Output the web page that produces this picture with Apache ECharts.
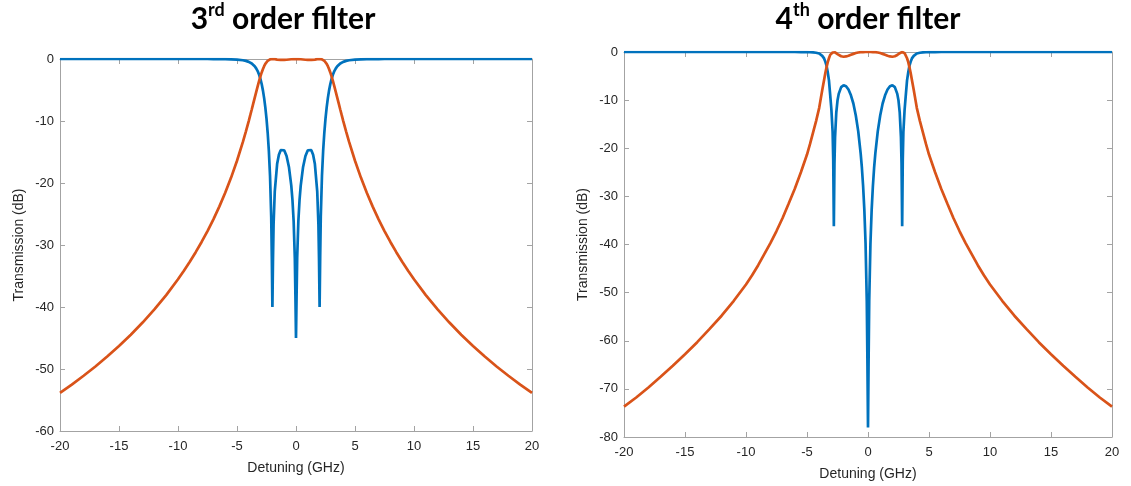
<!DOCTYPE html>
<html>
<head>
<meta charset="utf-8">
<script src="https://cdn.jsdelivr.net/npm/echarts@6/dist/echarts.min.js"></script>
<style>
  html, body { margin: 0; padding: 0; background: #ffffff; }
  #chart { width: 1131px; height: 486px; }
</style>
</head>
<body>
<div id="chart"></div>
<script>
// Third-order filter: detuning (GHz) and response (dB)
const detuning3 = [-20,-19,-18,-17,-16,-15,-14,-13,-12,-11,-10,-9.5,-9,-8.5,-8,-7.5,-7,-6.5,-6,-5.5,-5,-4.5,-4.25,-4,-3.875,-3.75,-3.625,-3.5,-3.375,-3.25,-3.125,-3,-2.9,-2.8,-2.7,-2.6,-2.5,-2.4,-2.3,-2.2,-2.1,-2.05,-2,-1.95,-1.9,-1.8,-1.6,-1.45,-1.3,-1.15,-1,-0.8,-0.6,-0.4,-0.3,-0.2,-0.1,-0.05,
  0,
  0.05,0.1,0.2,0.3,0.4,0.6,0.8,1,1.15,1.3,1.45,1.6,1.8,1.9,1.95,2,2.05,2.1,2.2,2.3,2.4,2.5,2.6,2.7,2.8,2.9,3,3.125,3.25,3.375,3.5,3.625,3.75,3.875,4,4.25,4.5,5,5.5,6,6.5,7,7.5,8,8.5,9,9.5,10,11,12,13,14,15,16,17,18,19,20];
const reflection3 = [0,0,0,0,0,0,0,0,0,0,0,0,0,0,0,0,-0.01,-0.02,-0.03,-0.05,-0.1,-0.2,-0.3,-0.46,-0.58,-0.72,-0.92,-1.17,-1.51,-1.95,-2.54,-3.32,-4.12,-5.1,-6.31,-7.8,-9.62,-11.9,-14.83,-18.86,-25.47,-31.85,-40,-32.3,-26.68,-21.4,-16.94,-15.44,-14.71,-14.52,-14.72,-15.65,-17.41,-20.42,-22.74,-26.15,-32.1,-38.1,
  -45,
  -38.1,-32.1,-26.15,-22.74,-20.42,-17.41,-15.65,-14.72,-14.52,-14.71,-15.44,-16.94,-21.4,-26.68,-32.3,-40,-31.85,-25.47,-18.86,-14.83,-11.9,-9.62,-7.8,-6.31,-5.1,-4.12,-3.32,-2.54,-1.95,-1.51,-1.17,-0.92,-0.72,-0.58,-0.46,-0.3,-0.2,-0.1,-0.05,-0.03,-0.02,-0.01,0,0,0,0,0,0,0,0,0,0,0,0,0,0,0,0];
const transmission3 = [-53.86,-52.51,-51.09,-49.59,-47.99,-46.29,-44.47,-42.51,-40.39,-38.08,-35.53,-34.15,-32.7,-31.16,-29.51,-27.75,-25.86,-23.81,-21.58,-19.13,-16.41,-13.37,-11.71,-9.97,-9.06,-8.14,-7.2,-6.26,-5.33,-4.41,-3.54,-2.72,-2.13,-1.61,-1.16,-0.79,-0.5,-0.29,-0.15,-0.06,-0.01,0,0,0,-0.01,-0.03,-0.09,-0.13,-0.15,-0.16,-0.15,-0.12,-0.08,-0.04,-0.02,-0.01,0,0,
  0,
  0,0,-0.01,-0.02,-0.04,-0.08,-0.12,-0.15,-0.16,-0.15,-0.13,-0.09,-0.03,-0.01,0,0,0,-0.01,-0.06,-0.15,-0.29,-0.5,-0.79,-1.16,-1.61,-2.13,-2.72,-3.54,-4.41,-5.33,-6.26,-7.2,-8.14,-9.06,-9.97,-11.71,-13.37,-16.41,-19.13,-21.58,-23.81,-25.86,-27.75,-29.51,-31.16,-32.7,-34.15,-35.53,-38.08,-40.39,-42.51,-44.47,-46.29,-47.99,-49.59,-51.09,-52.51,-53.86];

// Fourth-order filter: detuning (GHz) and response (dB)
const detuning4 = [-20,-19,-18,-17,-16,-15,-14,-13,-12,-11,-10,-9.5,-9,-8.5,-8,-7.5,-7,-6.5,-6,-5.5,-5,-4.75,-4.5,-4.25,-4,-3.9,-3.75,-3.6,-3.5,-3.4,-3.3,-3.2,-3.1,-3,-2.9,-2.85,-2.8,-2.75,-2.7,-2.6,-2.5,-2.4,-2.2,-2,-1.8,-1.6,-1.4,-1.2,-1,-0.8,-0.6,-0.5,-0.4,-0.3,-0.2,-0.1,-0.05,
  0,
  0.05,0.1,0.2,0.3,0.4,0.5,0.6,0.8,1,1.2,1.4,1.6,1.8,2,2.2,2.4,2.5,2.6,2.7,2.75,2.8,2.85,2.9,3,3.1,3.2,3.3,3.4,3.5,3.6,3.75,3.9,4,4.25,4.5,4.75,5,5.5,6,6.5,7,7.5,8,8.5,9,9.5,10,11,12,13,14,15,16,17,18,19,20];
const reflection4 = [0,0,0,0,0,0,0,0,0,0,0,0,0,0,0,0,0,0,0,-0.01,-0.03,-0.05,-0.09,-0.16,-0.3,-0.45,-0.8,-1.33,-2,-2.8,-4.2,-5.9,-8.9,-12,-16.6,-22.4,-36.2,-23.2,-17.7,-12.6,-10.1,-8.7,-7.3,-6.9,-7.1,-7.8,-9,-10.7,-13.2,-16.5,-21.1,-24.1,-27.9,-32.8,-39.8,-51.8,-63.8,
  -78,
  -63.8,-51.8,-39.8,-32.8,-27.9,-24.1,-21.1,-16.5,-13.2,-10.7,-9,-7.8,-7.1,-6.9,-7.3,-8.7,-10.1,-12.6,-17.7,-23.2,-36.2,-22.4,-16.6,-12,-8.9,-5.9,-4.2,-2.8,-2,-1.33,-0.8,-0.45,-0.3,-0.16,-0.09,-0.05,-0.03,-0.01,0,0,0,0,0,0,0,0,0,0,0,0,0,0,0,0,0,0,0];
const transmission4 = [-73.7,-71.8,-69.7,-67.5,-65.2,-62.8,-60.3,-57.6,-54.8,-51.7,-48.3,-46.4,-44.3,-42,-39.7,-37.2,-34.5,-31.5,-28.4,-25,-21.3,-19.1,-16.7,-14.3,-11.6,-10.1,-7.9,-5.8,-4.4,-3.2,-2.1,-1.3,-0.6,-0.25,-0.1,-0.03,0,-0.02,-0.08,-0.24,-0.44,-0.63,-0.89,-0.99,-0.92,-0.78,-0.58,-0.39,-0.21,-0.1,-0.03,-0.02,-0.01,0,0,0,0,
  0,
  0,0,0,0,-0.01,-0.02,-0.03,-0.1,-0.21,-0.39,-0.58,-0.78,-0.92,-0.99,-0.89,-0.63,-0.44,-0.24,-0.08,-0.02,0,-0.03,-0.1,-0.25,-0.6,-1.3,-2.1,-3.2,-4.4,-5.8,-7.9,-10.1,-11.6,-14.3,-16.7,-19.1,-21.3,-25,-28.4,-31.5,-34.5,-37.2,-39.7,-42,-44.3,-46.4,-48.3,-51.7,-54.8,-57.6,-60.3,-62.8,-65.2,-67.5,-69.7,-71.8,-73.7];

const xTicks = { min: -20, max: 20, interval: 5 };
const yRange3 = { min: -60, max: 0, interval: 10 };
const yRange4 = { min: -80, max: 0, interval: 10 };

const BLUE = '#0072BD';
const ORANGE = '#D95319';
const FRAME = '#a3a3a3';
const TEXT = '#262626';
const FONT = '"Liberation Sans", Arial, sans-serif';

function pairs(xs, ys) { return xs.map((x, i) => [x, ys[i]]); }

function frameAxis(extra) {
  return Object.assign({
    type: 'value',
    axisLine: { show: true, onZero: false, lineStyle: { color: FRAME, width: 1 } },
    axisTick: { show: true, inside: true, length: 5, lineStyle: { color: FRAME } },
    splitLine: { show: false },
    axisLabel: { show: false }
  }, extra);
}

function xMain(gridIndex) {
  return frameAxis({
    gridIndex, position: 'bottom', min: xTicks.min, max: xTicks.max, interval: xTicks.interval,
    axisLabel: { show: true, color: TEXT, fontSize: 13, fontFamily: FONT, margin: 9 },
    name: 'Detuning (GHz)', nameLocation: 'middle', nameGap: 30,
    nameTextStyle: { color: TEXT, fontSize: 14, fontFamily: FONT }
  });
}
function xTop(gridIndex) {
  return frameAxis({ gridIndex, position: 'top', min: xTicks.min, max: xTicks.max, interval: xTicks.interval });
}
function yMain(gridIndex, r) {
  return frameAxis({
    gridIndex, position: 'left', min: r.min, max: r.max, interval: r.interval,
    axisLabel: { show: true, color: TEXT, fontSize: 13, fontFamily: FONT, margin: 6 },
    name: 'Transmission (dB)', nameLocation: 'middle', nameGap: 34, nameRotate: 90,
    nameTextStyle: { color: TEXT, fontSize: 14, fontFamily: FONT }
  });
}
function yRight(gridIndex, r) {
  return frameAxis({ gridIndex, position: 'right', min: r.min, max: r.max, interval: r.interval });
}

function curve(name, xi, yi, data, color) {
  return {
    name, type: 'line', xAxisIndex: xi, yAxisIndex: yi, data,
    showSymbol: false, symbol: 'none', smooth: false,
    lineStyle: { color, width: 2.7 }, itemStyle: { color },
    emphasis: { disabled: true }
  };
}

const titleRich = {
  n: { fontSize: 30, fontWeight: 'bold', fontFamily: 'Lato, "Open Sans", sans-serif', color: '#000', lineHeight: 36 },
  s: { fontSize: 18, fontWeight: 'bold', fontFamily: 'Lato, "Open Sans", sans-serif', color: '#000', verticalAlign: 'top', lineHeight: 36 }
};

const chart = echarts.init(document.getElementById('chart'), null, { renderer: 'canvas' });
chart.setOption({
  animation: false,
  backgroundColor: '#ffffff',
  graphic: [
    { type: 'text', x: 283, y: 1, style: { text: '{n|3}{s|rd}{n| order filter}', rich: titleRich, align: 'center', textAlign: 'center', verticalAlign: 'top' } },
    { type: 'text', x: 868, y: 1, style: { text: '{n|4}{s|th}{n| order filter}', rich: titleRich, align: 'center', textAlign: 'center', verticalAlign: 'top' } }
  ],
  grid: [
    { left: 60, top: 59, width: 472, height: 372 },
    { left: 624, top: 52, width: 488, height: 386 }
  ],
  xAxis: [xMain(0), xTop(0), xMain(1), xTop(1)],
  yAxis: [yMain(0, yRange3), yRight(0, yRange3), yMain(1, yRange4), yRight(1, yRange4)],
  series: [
    curve('Reflection 3rd', 0, 0, pairs(detuning3, reflection3), BLUE),
    curve('Transmission 3rd', 0, 0, pairs(detuning3, transmission3), ORANGE),
    curve('Reflection 4th', 2, 2, pairs(detuning4, reflection4), BLUE),
    curve('Transmission 4th', 2, 2, pairs(detuning4, transmission4), ORANGE)
  ]
});
</script>
</body>
</html>
